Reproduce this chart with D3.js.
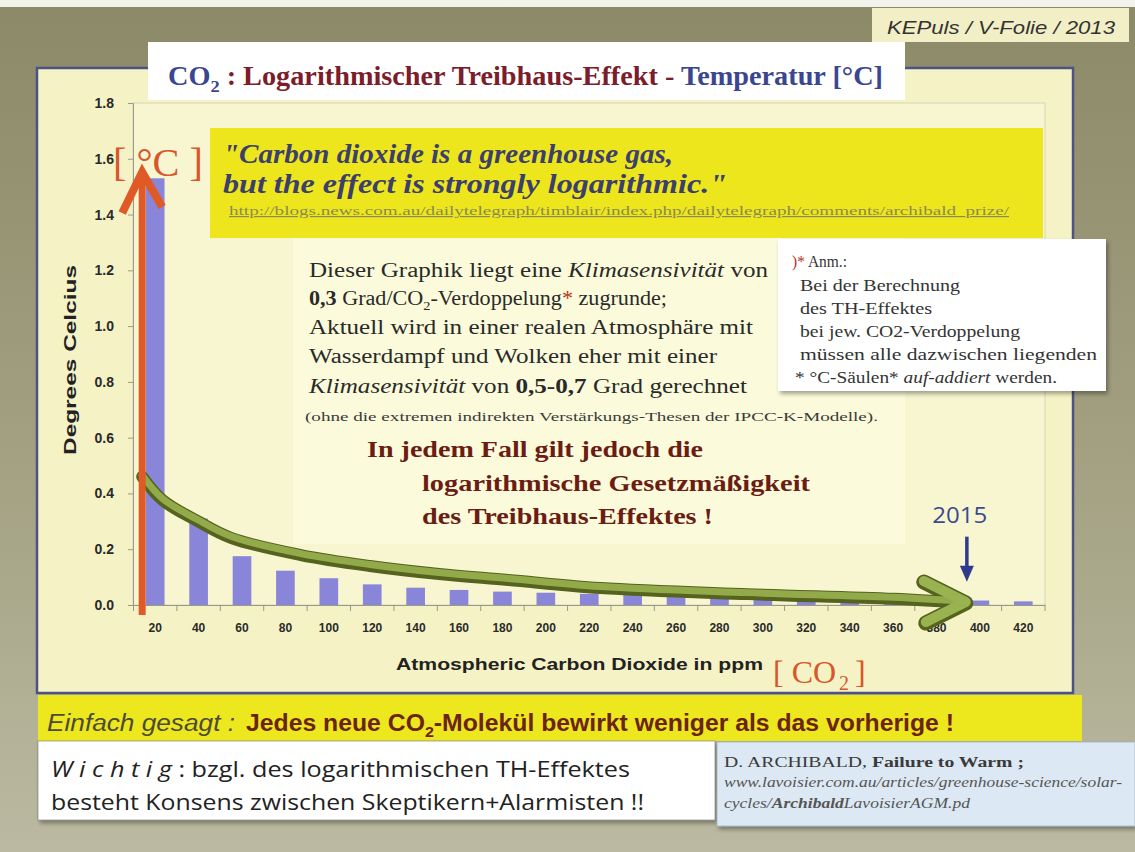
<!DOCTYPE html>
<html>
<head>
<meta charset="utf-8">
<title>CO2 logarithmischer Treibhaus-Effekt</title>
<script src="https://d3js.org/d3.v7.min.js"></script>
<style>
  body { margin: 0; background: #a3a182; }
  svg { display: block; }
</style>
</head>
<body>
<script>
// values
const ppm = [20, 40, 60, 80, 100, 120, 140, 160, 180, 200, 220, 240, 260, 280, 300, 320, 340, 360, 380, 400, 420];
const degC = [1.53, 0.31, 0.175, 0.123, 0.096, 0.074, 0.062, 0.054, 0.048, 0.044, 0.040, 0.036, 0.033, 0.029, 0.026, 0.022, 0.019, 0.017, 0.016, 0.016, 0.013];
const yTicks = [0, 0.2, 0.4, 0.6, 0.8, 1.0, 1.2, 1.4, 1.6, 1.8];

// annotation arrows, in data units (ppm / degrees)
const trendPpm = [14, 23.4, 39.5, 55.2, 87.1, 118.9, 150.8, 182.6, 225.1, 292.9, 360.3, 393.5];
const trendDeg = [0.46, 0.376, 0.301, 0.240, 0.179, 0.140, 0.111, 0.090, 0.061, 0.039, 0.022, 0.007];
const tempArrowPpm = 14;
const tempArrowDeg = [-0.036, 1.56];
const markPpm = 394;
const markDeg = [0.245, 0.083];
const markLabel = "2015";

const W = 1135, H = 852;
const svg = d3.select("body").append("svg").attr("width", W).attr("height", H);
const defs = svg.append("defs");

const bg = defs.append("linearGradient").attr("id", "bg").attr("x1", 0).attr("y1", 0).attr("x2", 0).attr("y2", 1);
bg.append("stop").attr("offset", "0%").attr("stop-color", "#8b8968");
bg.append("stop").attr("offset", "50%").attr("stop-color", "#a19f7f");
bg.append("stop").attr("offset", "100%").attr("stop-color", "#bbb9a1");

defs.append("filter").attr("id", "sh").attr("x", "-5%").attr("y", "-10%").attr("width", "115%").attr("height", "140%")
  .append("feDropShadow").attr("dx", 2).attr("dy", 3).attr("stdDeviation", 2)
  .attr("flood-color", "#000").attr("flood-opacity", 0.35);

// helper for text with mixed styles
function rich(parent, x, y, segs, o) {
  const fs = o.fs;
  const t = parent.append("text").attr("x", x).attr("y", y)
    .attr("font-family", o.font).attr("font-size", fs).attr("fill", o.fill || "#222");
  if (o.weight) t.attr("font-weight", o.weight);
  if (o.style) t.attr("font-style", o.style);
  if (o.len) t.attr("textLength", o.len).attr("lengthAdjust", "spacingAndGlyphs");
  if (o.anchor) t.attr("text-anchor", o.anchor);
  if (o.deco) t.attr("text-decoration", o.deco);
  let down = false;
  segs.forEach(s => {
    const sp = t.append("tspan").text(s.t);
    if (s.sub) { sp.attr("dy", fs * 0.25).attr("font-size", fs * 0.65); down = true; }
    else if (down) { sp.attr("dy", -fs * 0.25); down = false; }
    if (s.b) sp.attr("font-weight", "bold");
    if (s.i) sp.attr("font-style", "italic");
    if (s.c) sp.attr("fill", s.c);
  });
  return t;
}

// background
svg.append("rect").attr("width", W).attr("height", H).attr("fill", "url(#bg)");
svg.append("rect").attr("width", W).attr("height", 7).attr("fill", "#f3f3ec");

// KEPuls tag
svg.append("rect").attr("x", 872).attr("y", 8).attr("width", 257).attr("height", 34).attr("fill", "#f2efc6");
rich(svg, 887, 34, [{ t: "KEPuls / V-Folie / 2013" }],
  { font: "'Liberation Sans', Arial, sans-serif", fs: 18, style: "italic", fill: "#333", len: 228 });

// main panel
svg.append("rect").attr("x", 37).attr("y", 68).attr("width", 1036).attr("height", 625)
  .attr("fill", "#f5f3c6").attr("stroke", "#4c5284").attr("stroke-width", 2.5);

// scales
const x = d3.scaleBand().domain(ppm).range([133.5, 1045]).paddingInner(0.57).paddingOuter(0.285);
const mid = p => x(p) + x.bandwidth() / 2;
const xv = d3.scaleLinear().domain([20, 420]).range([mid(20), mid(420)]);
const y = d3.scaleLinear().domain([0, 1.8]).range([605, 103]);

// plot area
svg.append("rect").attr("x", 133).attr("y", y(1.8)).attr("width", 1045 - 133).attr("height", y(0) - y(1.8))
  .attr("fill", "#f7f6d1").attr("stroke", "#cfcdb0").attr("stroke-width", 0.8);
svg.append("rect").attr("x", 293).attr("y", 238).attr("width", 612).attr("height", 306)
  .attr("fill", "#fbfbdd").attr("opacity", 0.85);

// bars
svg.append("g").selectAll("rect").data(ppm).join("rect")
  .attr("x", p => x(p)).attr("y", (p, i) => y(degC[i]))
  .attr("width", x.bandwidth()).attr("height", (p, i) => y(0) - y(degC[i]))
  .attr("fill", "#8985d8");

// axes
const yAxis = svg.append("g").attr("transform", "translate(133,0)")
  .call(d3.axisLeft(y).tickValues(yTicks).tickFormat(d3.format(".1f")).tickSize(5).tickPadding(14));
yAxis.select(".domain").attr("stroke", "#9a9a8a");
yAxis.selectAll(".tick line").attr("stroke", "#9a9a8a");
yAxis.selectAll("text").attr("font-family", "'Liberation Sans', Arial, sans-serif")
  .attr("font-size", 14).attr("font-weight", "bold").attr("fill", "#2a2a2a");

const xAxis = svg.append("g").attr("transform", `translate(0,${y(0)})`)
  .call(d3.axisBottom(x).tickSize(0).tickPadding(18));
xAxis.select(".domain").attr("stroke", "#9a9a8a");
xAxis.selectAll("text").attr("font-family", "'Liberation Sans', Arial, sans-serif")
  .attr("font-size", 12).attr("font-weight", "bold").attr("fill", "#2a2a2a");
xAxis.selectAll(".bound").data(d3.range(ppm.length + 1)).join("line").attr("class", "bound")
  .attr("x1", i => x.range()[0] + i * x.step()).attr("x2", i => x.range()[0] + i * x.step())
  .attr("y1", 0).attr("y2", 6).attr("stroke", "#9a9a8a");

// axis titles
rich(svg, 0, 0, [{ t: "Degrees  Celcius" }],
  { font: "'Liberation Sans', Arial, sans-serif", fs: 17, weight: "bold", fill: "#222", anchor: "middle", len: 190 })
  .attr("transform", "translate(76,360) rotate(-90)");
rich(svg, 396, 670, [{ t: "Atmospheric Carbon Dioxide in ppm" }],
  { font: "'Liberation Sans', Arial, sans-serif", fs: 17, weight: "bold", fill: "#222", len: 367 });
// "[ CO2 ]" as separate pieces
const co2Font = "'Liberation Serif', serif";
svg.append("text").attr("x", 773).attr("y", 683).attr("font-family", co2Font).attr("font-size", 32)
  .attr("fill", "#d9562b").text("[ CO");
svg.append("text").attr("x", 839).attr("y", 690).attr("font-family", co2Font).attr("font-size", 20)
  .attr("fill", "#d9562b").text("2");
svg.append("text").attr("x", 855).attr("y", 683).attr("font-family", co2Font).attr("font-size", 32)
  .attr("fill", "#d9562b").text("]");

// green trend arrow
const trendPts = trendPpm.map((p, i) => [xv(p), y(trendDeg[i])]);
const curve = d3.line().curve(d3.curveCatmullRom.alpha(0.5));
const tip = trendPts[trendPts.length - 1];
const head = [[tip[0] - 42, tip[1] - 21], tip, [tip[0] - 40, tip[1] + 20]];
svg.append("path").attr("d", curve(trendPts)).attr("fill", "none")
  .attr("stroke", "#55631f").attr("stroke-width", 12).attr("stroke-linecap", "round");
svg.append("path").attr("d", d3.line()(head)).attr("fill", "none")
  .attr("stroke", "#55631f").attr("stroke-width", 15).attr("stroke-linejoin", "round").attr("stroke-linecap", "round");
svg.append("path").attr("d", curve(trendPts)).attr("fill", "none").attr("transform", "translate(0,-1.5)")
  .attr("stroke", "#93aa4a").attr("stroke-width", 7).attr("stroke-linecap", "round");
svg.append("path").attr("d", d3.line()(head)).attr("fill", "none").attr("transform", "translate(0,-1)")
  .attr("stroke", "#9ab351").attr("stroke-width", 10).attr("stroke-linejoin", "round").attr("stroke-linecap", "round");

// orange temperature arrow
const ax = xv(tempArrowPpm), aTop = y(tempArrowDeg[1]);
svg.append("line").attr("x1", ax).attr("x2", ax).attr("y1", y(tempArrowDeg[0])).attr("y2", aTop + 3)
  .attr("stroke", "#e05a28").attr("stroke-width", 7);
svg.append("path").attr("d", d3.line()([[ax - 20, aTop + 43], [ax, aTop + 2], [ax + 20, aTop + 37]]))
  .attr("fill", "none").attr("stroke", "#e05a28").attr("stroke-width", 8).attr("stroke-linejoin", "miter");
rich(svg, 113, 176, [{ t: "[ °C ]" }],
  { font: "'Liberation Serif', serif", fs: 40, fill: "#d9562b", len: 90 });

// 2015 marker
const mx = xv(markPpm), my0 = y(markDeg[0]), my1 = y(markDeg[1]);
svg.append("line").attr("x1", mx).attr("x2", mx).attr("y1", my0).attr("y2", my1 - 10)
  .attr("stroke", "#2e3a8c").attr("stroke-width", 3.5);
svg.append("path").attr("d", d3.line()([[mx - 7, my1 - 16], [mx, my1], [mx + 7, my1 - 16]]) + "Z")
  .attr("fill", "#2e3a8c");
rich(svg, mx - 7, 523, [{ t: markLabel }],
  { font: "'Open Sans', 'Liberation Sans', sans-serif", fs: 21, fill: "#3b4a8e", anchor: "middle", len: 55 });

// title box
svg.append("rect").attr("x", 148).attr("y", 42).attr("width", 757).attr("height", 58).attr("fill", "#ffffff");
rich(svg, 168, 85, [
  { t: "CO", c: "#3a4690" }, { t: "2", sub: true, c: "#3a4690" },
  { t: " : Logarithmischer Treibhaus-Effekt - ", c: "#7b1d2a" },
  { t: "Temperatur [°C]", c: "#3a4690" }
], { font: "'Liberation Serif', 'Times New Roman', serif", fs: 27, weight: "bold", len: 715 });

// quote box
svg.append("rect").attr("x", 210).attr("y", 128).attr("width", 833).attr("height", 110).attr("fill", "#ede61d");
const serif = "'Liberation Serif', 'Times New Roman', serif";
rich(svg, 223, 163, [{ t: "\"Carbon dioxide is a greenhouse gas," }],
  { font: serif, fs: 28, weight: "bold", style: "italic", fill: "#3c3f6b", len: 450 });
rich(svg, 223, 193, [{ t: "but the effect is strongly logarithmic.\"" }],
  { font: serif, fs: 28, weight: "bold", style: "italic", fill: "#3c3f6b", len: 504 });
rich(svg, 229, 215, [{ t: "http://blogs.news.com.au/dailytelegraph/timblair/index.php/dailytelegraph/comments/archibald_prize/" }],
  { font: serif, fs: 12, fill: "#8b8a52", deco: "underline", len: 780 });

// explanation text
const red = "#b8321e";
rich(svg, 309, 277, [{ t: "Dieser Graphik liegt eine " }, { t: "Klimasensivität", i: true }, { t: " von" }],
  { font: serif, fs: 20, fill: "#2a2a2a", len: 459 });
rich(svg, 309, 305, [{ t: "0,3", b: true }, { t: " Grad/CO" }, { t: "2", sub: true }, { t: "-Verdoppelung" },
  { t: "*", c: red }, { t: " zugrunde;" }],
  { font: serif, fs: 20, fill: "#2a2a2a", len: 358 });
rich(svg, 309, 334, [{ t: "Aktuell wird in einer realen Atmosphäre mit" }],
  { font: serif, fs: 20, fill: "#2a2a2a", len: 444 });
rich(svg, 309, 363, [{ t: "Wasserdampf und Wolken eher mit einer" }],
  { font: serif, fs: 20, fill: "#2a2a2a", len: 408 });
rich(svg, 309, 393, [{ t: "Klimasensivität", i: true }, { t: " von " }, { t: "0,5-0,7", b: true }, { t: " Grad gerechnet" }],
  { font: serif, fs: 20, fill: "#2a2a2a", len: 438 });
rich(svg, 305, 421, [{ t: "(ohne die extremen  indirekten Verstärkungs-Thesen der IPCC-K-Modelle)." }],
  { font: serif, fs: 13, fill: "#3a3a3a", len: 573 });
const brown = "#6b1d14";
rich(svg, 367, 457, [{ t: "In jedem Fall gilt jedoch die" }],
  { font: serif, fs: 24, weight: "bold", fill: brown, len: 336 });
rich(svg, 422, 491, [{ t: "logarithmische Gesetzmäßigkeit" }],
  { font: serif, fs: 24, weight: "bold", fill: brown, len: 388 });
rich(svg, 422, 524, [{ t: "des Treibhaus-Effektes !" }],
  { font: serif, fs: 24, weight: "bold", fill: brown, len: 291 });

// footnote box
svg.append("rect").attr("x", 778).attr("y", 239).attr("width", 328).attr("height", 152)
  .attr("fill", "#ffffff").attr("filter", "url(#sh)");
const note = [
  [[{ t: ")*", c: red }, { t: " Anm.:" }], 792, 267, 55],
  [[{ t: "Bei der Berechnung" }], 800, 291, 160],
  [[{ t: "des TH-Effektes" }], 800, 314, 132],
  [[{ t: "bei jew. CO2-Verdoppelung" }], 800, 337, 220],
  [[{ t: "müssen alle dazwischen liegenden" }], 800, 360, 297],
  [[{ t: "* °C-Säulen* " }, { t: "auf-addiert", i: true }, { t: " werden." }], 795, 383, 262]
];
note.forEach(([segs, nx, ny, len]) =>
  rich(svg, nx, ny, segs, { font: serif, fs: 17, fill: "#333", len: len }));

// bottom yellow strip
svg.append("rect").attr("x", 38).attr("y", 695).attr("width", 1044).attr("height", 46).attr("fill", "#ede71e");
const narrow = "'Liberation Sans Narrow', 'Liberation Sans', Arial, sans-serif";
rich(svg, 47, 731, [{ t: "Einfach gesagt :" }],
  { font: narrow, fs: 23, style: "italic", fill: "#4d4b36", len: 188 });
rich(svg, 246, 731, [{ t: "Jedes neue CO" }, { t: "2", sub: true }, { t: "-Molekül bewirkt weniger als das vorherige !" }],
  { font: narrow, fs: 23, weight: "bold", fill: "#6b2410", len: 708 });

// Wichtig box
svg.append("rect").attr("x", 38).attr("y", 741).attr("width", 677).attr("height", 79)
  .attr("fill", "#ffffff").attr("stroke", "#777").attr("stroke-width", 0.6).attr("filter", "url(#sh)");
const sans = "'Open Sans', 'Liberation Sans', sans-serif";
rich(svg, 51, 777, [{ t: "W i c h t i g", i: true }, { t: " : bzgl. des logarithmischen TH-Effektes" }],
  { font: sans, fs: 22, fill: "#222", len: 579 });
rich(svg, 51, 810, [{ t: "besteht Konsens zwischen Skeptikern+Alarmisten !!" }],
  { font: sans, fs: 22, fill: "#222", len: 593 });

// source box
svg.append("rect").attr("x", 717).attr("y", 742).attr("width", 418).attr("height", 84)
  .attr("fill", "#dce8f3").attr("stroke", "#9fb3c4").attr("stroke-width", 0.8).attr("filter", "url(#sh)");
rich(svg, 724, 767, [{ t: "D. ARCHIBALD,   " }, { t: "Failure to Warm ;", b: true }],
  { font: serif, fs: 15, fill: "#3a3a3a", len: 300 });
rich(svg, 724, 787, [{ t: "www.lavoisier.com.au/articles/greenhouse-science/solar-" }],
  { font: serif, fs: 14, style: "italic", fill: "#555", len: 398 });
rich(svg, 724, 808, [{ t: "cycles/" }, { t: "Archibald", b: true }, { t: "LavoisierAGM.pd" }],
  { font: serif, fs: 14, style: "italic", fill: "#555", len: 246 });
</script>
</body>
</html>
